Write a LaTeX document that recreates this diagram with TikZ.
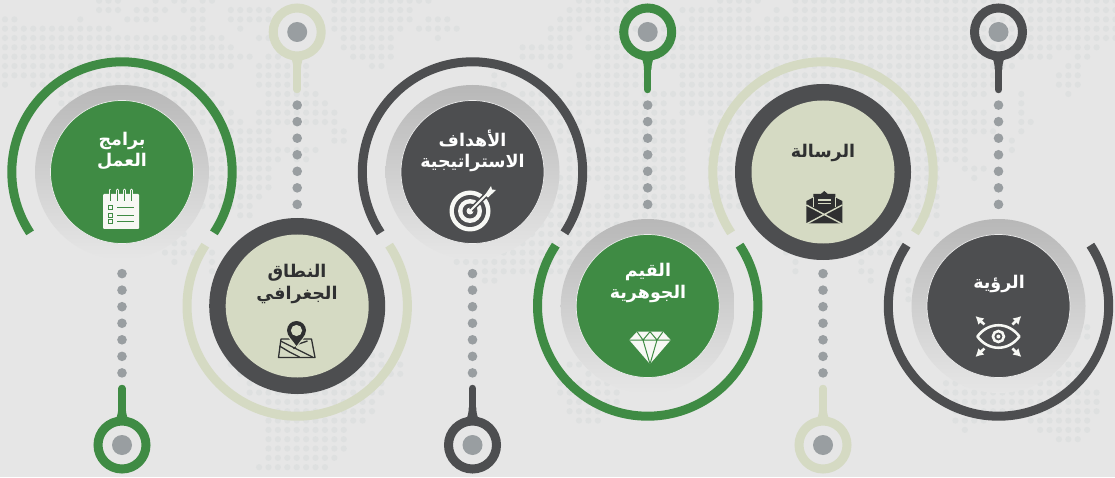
\documentclass[tikz,border=0pt]{standalone}
\usepackage{fontspec}
\usetikzlibrary{arrows.meta}
\newfontfamily\arabicfont[Script=Arabic]{DejaVu Sans}
\TeXXeTstate=1
\newcommand{\arline}[1]{\beginR #1\endR}
\definecolor{pagebg}{HTML}{E6E6E6}
\definecolor{mapdot}{HTML}{DEE0E0}
\definecolor{leaf}{HTML}{3F8B44}
\definecolor{slate}{HTML}{4D4E50}
\definecolor{sage}{HTML}{D5DAC3}
\definecolor{pebble}{HTML}{999EA1}
\definecolor{inky}{HTML}{2F3031}
\tikzset{
  ringgrad/.style={circle,inner sep=0pt,outer sep=0pt,minimum size=174,
    top color=black!28,middle color=black!21,bottom color=pagebg},
  ringdark/.style={circle,inner sep=0pt,outer sep=0pt,minimum size=176,fill=slate},
  disc/.style={circle,inner sep=0pt,outer sep=0pt,minimum size=143},
  discedge/.style={disc,draw=white!85!gray,line width=0.7},
  lbl/.style={font=\arabicfont\bfseries\fontsize{17.5}{21.5}\selectfont,align=center,inner sep=0pt},
  halo/.style={line width=9},
  pin/.style={circle,inner sep=0pt,outer sep=0pt,minimum size=48,line width=9},
  pinhole/.style={circle,inner sep=0pt,outer sep=0pt,minimum size=20,fill=pebble},
  tailline/.style={line width=7.5,line cap=round},
  dotline/.style={draw=pebble,line width=9.6,line cap=round,dash pattern=on 0pt off 16.55pt,dash phase=0.95pt},
}
\begin{document}
\begin{tikzpicture}[x=1pt,y=1pt]
\useasboundingbox (0,0) rectangle (1115,477);
\fill[pagebg] (0,0) rectangle (1115,477);
% world map
\foreach \r/\a/\b in {0/10/12,0/16/16,0/18/19,0/21/22,0/35/45,0/61/66,0/76/80,0/84/118,
  1/10/12,1/14/17,1/19/21,1/24/28,1/35/43,1/60/66,1/72/79,1/82/82,1/84/118,
  2/0/1,2/8/8,2/13/16,2/20/21,2/24/28,2/35/43,2/45/47,2/59/66,2/73/79,2/81/118,
  3/0/11,3/20/21,3/25/25,3/35/42,3/44/48,3/58/61,3/63/118,
  4/0/23,4/27/28,4/36/41,4/46/46,4/58/60,4/62/66,4/70/118,
  5/0/24,5/36/41,5/55/60,5/62/66,5/71/116,
  6/0/26,6/28/29,6/37/41,6/55/60,6/63/66,6/70/111,6/114/115,
  7/0/24,7/27/32,7/39/40,7/58/59,7/63/67,7/70/107,7/113/114,
  8/0/20,8/27/32,8/52/52,8/61/68,8/72/105,8/112/114,
  9/0/0,9/3/21,9/27/32,9/52/53,9/61/68,9/72/105,9/112/114,
  10/6/22,10/28/33,10/55/66,10/68/104,10/108/108,10/113/113,
  11/6/23,11/28/34,11/55/70,11/72/102,11/108/108,
  12/20/24,12/27/35,12/56/70,12/72/104,12/108/108,
  13/21/25,13/27/35,13/58/61,13/63/72,13/75/104,13/108/109,
  14/22/28,14/35/36,14/59/72,14/75/105,14/108/108,
  15/22/28,15/35/36,15/56/60,15/64/72,15/75/102,15/107/107,
  16/22/33,16/56/57,16/60/72,16/75/102,16/107/107,
  17/22/29,17/31/32,17/60/72,17/75/102,
  18/22/28,18/60/72,18/75/99,18/102/104,
  19/22/28,19/58/72,19/75/99,19/103/103,
  20/22/28,20/52/60,20/64/72,20/75/99,
  21/22/27,21/52/60,21/64/99,
  22/21/26,22/52/99,
  23/25/26,23/52/65,23/67/75,23/95/99,
  24/53/65,24/67/75,
  25/19/19,25/53/70,25/82/82,25/95/95,25/99/99,
  26/18/19,26/50/62,26/82/95,
  27/17/22,27/50/60,27/83/83,27/91/94,
  28/18/18,28/22/22,28/48/64,28/84/84,28/91/91,
  29/22/22,29/51/62,29/84/84,29/91/92,
  30/51/52,30/92/92,30/96/97,
  31/96/96,32/96/97,33/97/97,34/97/98,35/98/98,35/115/115,
  36/114/115,37/112/112,38/38/40,38/110/112,
  39/24/24,39/38/42,39/60/61,39/103/114,
  40/25/42,40/62/64,40/103/114,
  41/26/40,41/59/65,41/100/114,
  42/26/40,42/59/65,42/100/116,
  43/28/39,43/60/65,43/101/116,
  44/28/39,44/60/64,44/101/116,
  45/28/38,45/61/63,45/101/104,45/109/115,
  46/28/36,46/102/102,46/110/115,
  47/28/36,47/112/114,48/28/36,49/28/35,50/27/34}
  \foreach \c in {\a,...,\b}
    \fill[mapdot] ({5+9.41*\c},{476.3-9.33*\r}) circle (3.1);

% halos
\draw[halo,leaf] (122,305)+(213.5:110.2) arc (213.5:-33.5:110.2);
\draw[halo,sage] (297.2,171)+(146.5:110.2) arc (146.5:393.5:110.2);
\draw[halo,slate] (472.5,305)+(213.5:110.2) arc (213.5:-33.5:110.2);
\draw[halo,leaf] (647.7,171)+(146.5:110.2) arc (146.5:393.5:110.2);
\draw[halo,sage] (823,305)+(213.5:110.2) arc (213.5:-33.5:110.2);
\draw[halo,slate] (998.5,171)+(146.5:110.2) arc (146.5:393.5:110.2);

% rings and discs
\node[ringgrad] (ring1) at (122,305) {};
\node[discedge,fill=leaf] (disc1) at (ring1) {};
\node[ringdark] (ring2) at (297.2,171) {};
\node[disc,fill=sage] (disc2) at (ring2) {};
\node[ringgrad] (ring3) at (472.5,305) {};
\node[discedge,fill=slate] (disc3) at (ring3) {};
\node[ringgrad] (ring4) at (647.7,171) {};
\node[discedge,fill=leaf] (disc4) at (ring4) {};
\node[ringdark] (ring5) at (823,305) {};
\node[disc,fill=sage] (disc5) at (ring5) {};
\node[ringgrad] (ring6) at (998.5,171) {};
\node[discedge,fill=slate] (disc6) at (ring6) {};

% labels
\node[lbl,text=white] (txt1) at (122,326) {\arline{برامج}\\\arline{العمل}};
\node[lbl,text=inky] (txt2) at (297,193) {\arline{النطاق}\\\arline{الجغرافي}};
\node[lbl,text=white] (txt3) at (472.5,326) {\arline{الأهداف}\\\arline{الاستراتيجية}};
\node[lbl,text=white] (txt4) at (648,194) {\arline{القيم}\\\arline{الجوهرية}};
\node[lbl,text=inky] (txt5) at (823,324) {\arline{الرسالة}};
\node[lbl,text=white] (txt6) at (999,193) {\arline{الرؤية}};

% pins, tails, dots
\foreach \n/\cx/\py/\ty/\s/\col in {1/122/32/88.5/-1/leaf,2/297.2/445/387.5/1/sage,
  3/472.5/32/88.5/-1/slate,4/647.7/445/387.5/1/leaf,5/823/32/88.5/-1/sage,6/998.5/445/387.5/1/slate}{
  \coordinate (tail\n) at (\cx,\ty);
  \draw[dotline] (tail\n) -- (ring\n);
  \fill[\col] (\cx-10,{\py-\s*22}) .. controls (\cx-5,{\py-\s*26}) and (\cx-4,{\py-\s*30}) .. (\cx-3.7,{\py-\s*38})
    -- (\cx+3.7,{\py-\s*38}) .. controls (\cx+4,{\py-\s*30}) and (\cx+5,{\py-\s*26}) .. (\cx+10,{\py-\s*22}) -- cycle;
  \node[pin,draw=\col] (pin\n) at (\cx,\py) {};
  \node[pinhole] (hole\n) at (pin\n) {};
  \draw[tailline,\col] (pin\n) -- (tail\n);
}

% notepad
\begin{scope}[shift={(121,267)}]
\fill[white!82!sage,rounded corners=1] (-18,-19) rectangle (18,16);
\foreach \x in {-11,-3.7,3.3,10.7}{
  \draw[white!82!sage,line width=2.6,line cap=round] (\x,20) -- (\x,9);
  \draw[leaf,line width=0.8] (\x,20) -- (\x,9);
}
\foreach \y in {2.7,-5,-11.7}{
  \draw[leaf,line width=0.8] (-13,\y-2) rectangle (-9,\y+2);
  \draw[leaf,line width=0.7] (-4,\y) -- (13,\y);
}
\end{scope}

% map pin
\begin{scope}[shift={(296.5,139)},inky]
\draw[line width=1.3,line join=round] (-18,-19.5) -- (-15.5,-1) -- (15,-1) -- (18.5,-19.5) -- cycle;
\draw[line width=1.3] (-17,-8) -- (-7,-14) -- (3,-19) (-16,-3) -- (8,-15) -- (16,-19);
\draw[line width=1.3] (-3,-11) -- (2,-6) -- (11,-3);
\fill[sage] (0,-9.5) -- (-12,5) arc (200:-20:12.5) -- cycle;
\fill (0,-8) .. controls (-3,-3) and (-9.5,2) .. (-9.5,7.5) arc (180:0:9.5) .. controls (9.5,2) and (3,-3) .. (0,-8) -- cycle;
\fill[sage] (0,7.5) circle (5.6);
\end{scope}

% target
\begin{scope}[shift={(470,266)}]
\fill[white!82!sage] (0,0) circle (20.5);
\fill[slate] (0,0) circle (16);
\fill[white!82!sage] (0,0) circle (12);
\fill[slate] (0,0) circle (7.5);
\fill[white!82!sage] (0,0) circle (3.5);
\draw[slate,line width=5] (1,1) -- (20,20);
\draw[white!82!sage,line width=2] (0,0) -- (20,20);
\fill[white!82!sage] (15,16) -- (21,25) -- (22,21.5) -- (26,21) -- (18,13.5) -- cycle;
\end{scope}

% diamond
\begin{scope}[shift={(650,129)}]
\fill[white!82!sage] (-13,16.3) -- (13,16.3) -- (20.7,8) -- (0,-16) -- (-20.7,8) -- cycle;
\draw[leaf,line width=1,line join=round] (-20.7,8) -- (20.7,8) (-13,16.3) -- (-7,8) -- (0,16.3) -- (7,8) -- (13,16.3)
  (-7,8) -- (0,-16) -- (7,8);
\end{scope}

% envelope
\begin{scope}[shift={(824.3,269)}]
\fill[inky] (-18,-15.5) -- (18,-15.5) -- (18,7) -- (11,10.5) -- (11,14) -- (3.5,14) -- (0,17) -- (-3.5,14) -- (-11,14) -- (-11,10.5) -- (-18,7) -- cycle;
\draw[sage,line width=1.4] (-18,3) -- (18,-16) (18,3) -- (-18,-16);
\draw[sage,line width=1.4] (-6.5,8) -- (6.5,8) (-6.5,4.5) -- (6.5,4.5);
\draw[sage,line width=0.9] (-11,10.5) -- (-11,1) (11,10.5) -- (11,1);
\end{scope}

% eye
\begin{scope}[shift={(998.4,140.5)},white!82!sage]
\draw[line width=2.6,line join=round] (-21,0) .. controls (-10,15) and (10,15) .. (21,0) .. controls (10,-15) and (-10,-15) .. (-21,0) -- cycle;
\draw[line width=2.6] (0,0) circle (5.5);
\fill (0,0) circle (2);
\foreach \a/\b in {1/1,-1/1,1/-1,-1/-1}
  \draw[line width=2.6,-{Latex[length=8,width=9]}] (\a*14,\b*12) -- (\a*23,\b*20.5);
\end{scope}
\end{tikzpicture}
\end{document}
